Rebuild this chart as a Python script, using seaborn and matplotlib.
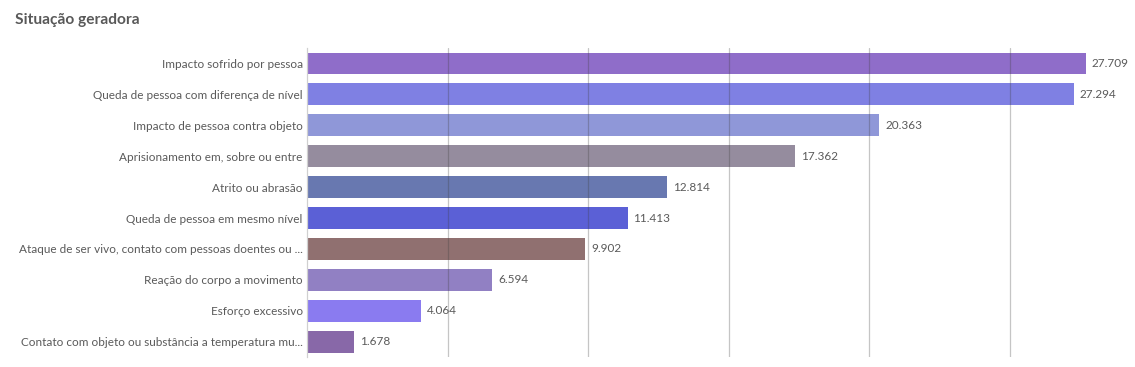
import numpy as np
import pandas as pd
import matplotlib
matplotlib.use('Agg')
import matplotlib.pyplot as plt
import seaborn as sns

# data
situacoes = ['Impacto sofrido por pessoa',
             'Queda de pessoa com diferença de nível',
             'Impacto de pessoa contra objeto',
             'Aprisionamento em, sobre ou entre',
             'Atrito ou abrasão',
             'Queda de pessoa em mesmo nível',
             'Ataque de ser vivo, contato com pessoas doentes ou ...',
             'Reação do corpo a movimento',
             'Esforço excessivo',
             'Contato com objeto ou substância a temperatura mu...']
casos = [27709, 27294, 20363, 17362, 12814, 11413, 9902, 6594, 4064, 1678]
cores = ['#8f6dc9', '#7f80e3', '#8f97d8', '#958c9e', '#6878b0',
         '#5b60d6', '#907070', '#9180c3', '#8a7bf0', '#8868a8']

df = pd.DataFrame({'Situacao': situacoes, 'Casos': casos})

sns.set_theme(style='white')
plt.rcParams['font.family'] = ['Lato', 'DejaVu Sans']

fig = plt.figure(figsize=(11.35, 3.67), dpi=100)
ax = fig.add_axes([0.2705, 0.027, 0.6935, 0.842])

sns.barplot(data=df, x='Casos', y='Situacao', hue='Situacao', palette=cores,
            orient='h', width=0.71, legend=False, saturation=1, linewidth=0, ax=ax)

ax.set_xlim(0, 28000)
ax.set_ylim(9.5, -0.5)
ax.set_xticks([5000, 10000, 15000, 20000, 25000])
ax.set_xticklabels([])
ax.tick_params(axis='x', length=0)
ax.tick_params(axis='y', length=0, pad=3, labelsize=8.5, labelcolor='#5a5a5a')
ax.grid(axis='x', color='#404040', alpha=0.3, linewidth=0.9)
ax.set_axisbelow(False)
ax.set_xlabel('')
ax.set_ylabel('')
for s in ['top', 'right', 'bottom']:
    ax.spines[s].set_visible(False)
ax.spines['left'].set_color('#d0d0d0')
ax.spines['left'].set_linewidth(0.9)

# rotulos com ponto como separador de milhar
for cont in ax.containers:
    ax.bar_label(cont, fmt=lambda v: f'{v:,.0f}'.replace(',', '.'), padding=4,
                 fontsize=8.5, color='#5a5a5a', clip_on=False)

fig.text(0.013, 0.945, 'Situação geradora', fontsize=11.2, fontweight='bold', color='#595959', va='center')

fig.savefig('out.png', dpi=100)
